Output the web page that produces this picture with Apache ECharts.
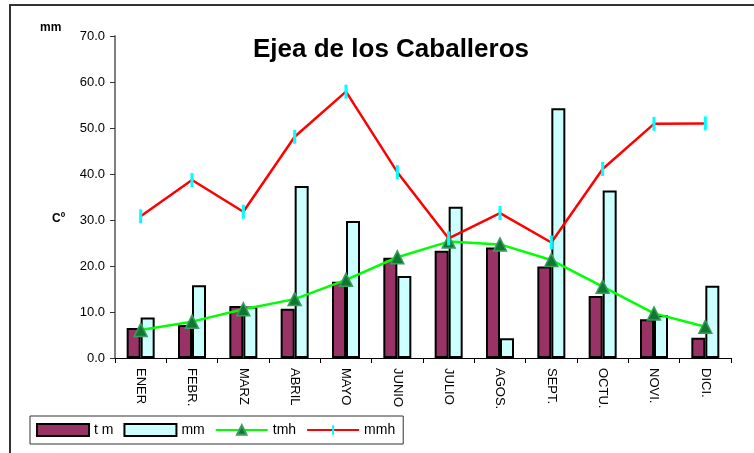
<!DOCTYPE html>
<html>
<head>
<meta charset="utf-8">
<script src="https://cdn.jsdelivr.net/npm/echarts@6/dist/echarts.min.js"></script>
<style>
  html, body { margin: 0; padding: 0; background: #fff; }
  #chart { width: 754px; height: 453px; }
</style>
</head>
<body>
<div id="chart"></div>
<script>
// categorias (meses)
const months = ['ENER', 'FEBR.', 'MARZ', 'ABRIL', 'MAYO', 'JUNIO', 'JULIO', 'AGOS.', 'SEPT.', 'OCTU.', 'NOVI.', 'DICI.']
// temperatura media (barras granate)
const tm = [6.5, 7.2, 11.3, 10.7, 16.6, 21.8, 23.3, 24.0, 19.9, 13.5, 8.4, 4.4]
// precipitacion (barras celeste)
const mm = [8.8, 15.8, 11.2, 37.4, 29.8, 17.8, 32.9, 4.3, 54.3, 36.4, 9.3, 15.7]
// lineas
const tmh = [6.1, 7.9, 10.6, 12.8, 17.0, 21.9, 25.3, 24.7, 21.3, 15.5, 9.7, 6.8]
const mmh = [30.8, 38.7, 31.8, 48.1, 57.9, 40.4, 26.0, 31.5, 25.1, 41.1, 50.9, 51.0]

const FONT = 'Arial, "Liberation Sans", sans-serif'

// marcador: raya vertical dentro de una caja cuadrada (para que la leyenda no la deforme)
const DASH = 'path://M0,0L0,0M3.9,0h2.2v10h-2.2zM10,10L10,10'

const chart = echarts.init(document.getElementById('chart'), null, {renderer: 'canvas'})

chart.setOption({
  backgroundColor: '#ffffff',
  animation: false,
  title: {
    text: 'Ejea de los Caballeros',
    left: 386,
    top: 32,
    textAlign: 'center',
    textStyle: {fontFamily: FONT, fontSize: 26, fontWeight: 'bold', color: '#000'},
  },
  /** borde exterior y rotulos de eje */
  graphic: [
    {
      type: 'rect',
      shape: {x: 10, y: 5, width: 780, height: 480},
      style: {fill: null, stroke: '#333', lineWidth: 2},
      silent: true,
    },
    {
      type: 'text', left: 40, top: 22,
      style: {text: 'mm', fontFamily: FONT, fontSize: 12, fontWeight: 'bold', fill: '#000'},
    },
    {
      type: 'text', left: 52, top: 213,
      style: {text: 'Cº', fontFamily: FONT, fontSize: 12, fontWeight: 'bold', fill: '#000'},
    },
  ],
  grid: {
    left: 115,
    right: 23,
    top: 36,
    bottom: 95,
  },
  legend: {
    left: 30,
    top: 416,
    padding: [7, 8, 7, 6],
    itemGap: 10,
    itemWidth: 52,
    itemHeight: 12,
    borderColor: '#333',
    borderWidth: 1,
    textStyle: {fontFamily: FONT, fontSize: 14, color: '#000'},
    data: [
      {name: 't m', icon: 'rect'},
      {name: 'mm', icon: 'rect'},
      {name: 'tmh'},
      {name: 'mmh'},
    ],
  },
  xAxis: {
    type: 'category',
    data: months,
    axisLine: {lineStyle: {color: '#000', width: 1}},
    axisTick: {show: true, length: 5, lineStyle: {color: '#000'}},
    axisLabel: {
      rotate: -90,
      margin: 10,
      interval: 0,
      fontFamily: FONT,
      fontSize: 13,
      color: '#000',
    },
    splitLine: {show: false},
  },
  yAxis: {
    type: 'value',
    min: 0,
    max: 70,
    interval: 10,
    axisLine: {show: true, lineStyle: {color: '#808080', width: 2}},
    axisTick: {show: true, length: 5, lineStyle: {color: '#333'}},
    axisLabel: {
      margin: 10,
      fontFamily: FONT,
      fontSize: 13,
      color: '#000',
      formatter: v => v.toFixed(1),
    },
    splitLine: {show: false},
  },
  series: [
    {
      name: 't m',
      type: 'bar',
      data: tm,
      barWidth: 14,
      barGap: '0%',
      itemStyle: {color: '#993366', borderColor: '#000', borderWidth: 2},
    },
    {
      name: 'mm',
      type: 'bar',
      data: mm,
      barWidth: 14,
      barGap: '0%',
      itemStyle: {color: '#ccffff', borderColor: '#000', borderWidth: 2},
    },
    {
      name: 'tmh',
      type: 'line',
      data: tmh,
      symbol: 'triangle',
      symbolSize: 13,
      lineStyle: {color: '#00ff00', width: 2.5},
      itemStyle: {color: '#0b7a2e', borderColor: '#3f9a60', borderWidth: 1.5},
      z: 5,
    },
    {
      name: 'mmh',
      type: 'line',
      data: mmh,
      symbol: DASH,
      symbolSize: 14,
      lineStyle: {color: '#ff0000', width: 2.5},
      itemStyle: {color: '#00ffff', borderWidth: 0},
      z: 6,
    },
  ],
})
</script>
</body>
</html>
